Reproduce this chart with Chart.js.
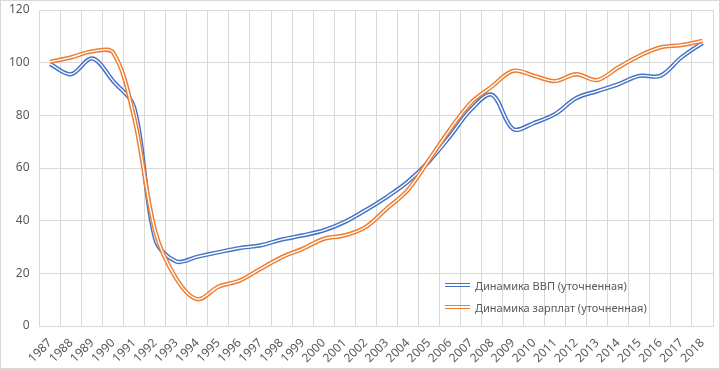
<!DOCTYPE html>
<html>
<head>
<meta charset="utf-8">
<script src="https://cdn.jsdelivr.net/npm/chart.js@4/dist/chart.umd.min.js"></script>
<style>
  html, body { margin: 0; padding: 0; background: #fff; }
  #wrap { position: relative; width: 720px; height: 369px; box-sizing: border-box; border: 1px solid #d9d9d9; }
  #chart { display: block; }
  .legend { position: absolute; left: 444px; top: 273px; font: 11px "Noto Sans", sans-serif; color: #595959; }
  .legend .row { display: flex; align-items: center; height: 22px; }
  .legend .sw { width: 25px; height: 1.4px; margin-right: 5px; border-top: 1.5px solid; border-bottom: 1.5px solid; }
</style>
</head>
<body>
<div id="wrap">
  <canvas id="chart" width="718" height="367"></canvas>
  <div class="legend">
    <div class="row"><span class="sw" style="border-color:#4472c4"></span><span>Динамика ВВП (уточненная)</span></div>
    <div class="row"><span class="sw" style="border-color:#ed7d31"></span><span>Динамика зарплат (уточненная)</span></div>
  </div>
</div>
<script>
const years = ['1987','1988','1989','1990','1991','1992','1993','1994','1995','1996','1997','1998','1999','2000','2001','2002',
  '2003','2004','2005','2006','2007','2008','2009','2010','2011','2012','2013','2014','2015','2016','2017','2018'];

// Динамика ВВП (уточненная)
const vvp = [99.5, 95.6, 101.6, 93, 83, 33, 24.5, 26.3, 28, 29.6, 30.6, 32.8, 34.4, 36.3, 39.5, 44,
  49, 54.8, 62.5, 72, 82.2, 87.8, 74.8, 77.1, 80.5, 86.5, 89.2, 91.8, 95, 95, 102, 107.5];

// Динамика зарплат (уточненная)
const zarplaty = [100.3, 102, 104.3, 103.8, 79, 36, 18, 10.2, 14.9, 17.2, 21.7, 26.1, 29.3, 33.1, 34.4, 37.6,
  44.6, 51.6, 63, 74.6, 84.8, 91, 96.9, 95, 93, 95.6, 93.4, 98.2, 102.6, 105.8, 106.7, 108.3];

const yTicks = [0, 20, 40, 60, 80, 100, 120];

const BLUE = '#4472c4';
const ORANGE = '#ed7d31';
const GRID = '#d9d9d9';
const TEXT = '#595959';
const FONT = '"Noto Sans", sans-serif';

// double line: thick coloured stroke with a thin white stroke on top
function line(data, color, width, order) {
  return {
    data,
    borderColor: color,
    borderWidth: width,
    pointRadius: 0,
    tension: 0.35,
    fill: false,
    order
  };
}

new Chart(document.getElementById('chart'), {
  type: 'line',
  data: {
    labels: years,
    datasets: [
      line(zarplaty, '#ffffff', 1.4, 0),
      line(zarplaty, ORANGE, 4.3, 1),
      line(vvp, '#ffffff', 1.4, 2),
      line(vvp, BLUE, 4.3, 3)
    ]
  },
  options: {
    responsive: false,
    animation: false,
    layout: { padding: { top: 9, right: 6, left: 0, bottom: 0 } },
    plugins: { legend: { display: false }, tooltip: { enabled: false } },
    scales: {
      x: {
        offset: true,
        grid: { color: GRID, offset: true, drawTicks: false },
        border: { color: GRID },
        ticks: {
          color: TEXT, font: { family: FONT, size: 12 },
          minRotation: 45, maxRotation: 45, padding: 10, autoSkip: false
        },
        afterFit: s => { s.height = 42; s.paddingLeft = 0; s.paddingRight = 0; }
      },
      y: {
        min: 0, max: 120,
        afterBuildTicks: s => { s.ticks = yTicks.map(v => ({ value: v })); },
        grid: { color: GRID, drawTicks: false },
        border: { display: false },
        ticks: { color: TEXT, font: { family: FONT, size: 12 }, padding: 10 },
        afterFit: s => { s.width = 38.5; s.paddingTop = 0; s.paddingBottom = 0; }
      }
    }
  }
});
</script>
</body>
</html>
